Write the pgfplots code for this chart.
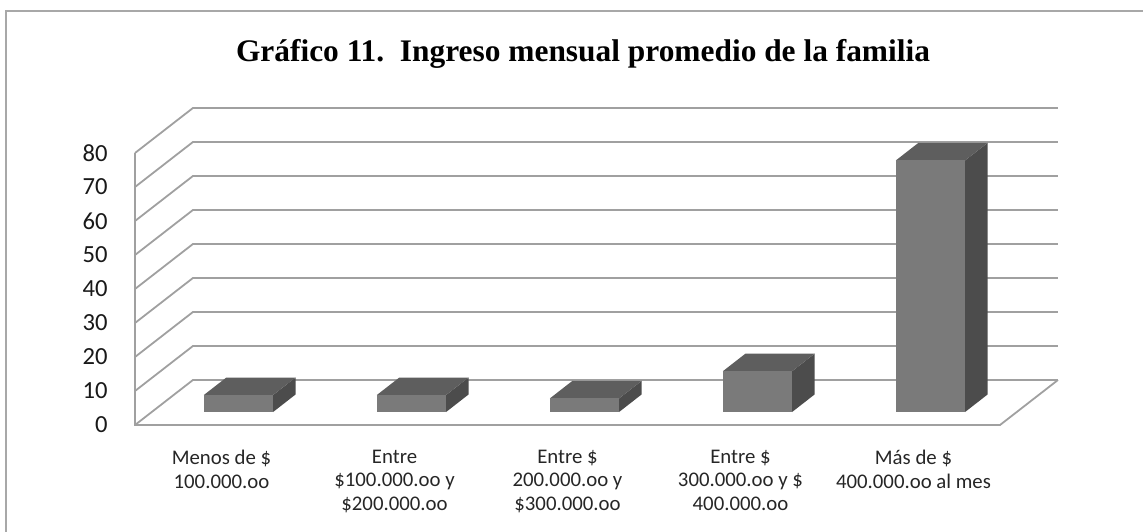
\documentclass[border=0pt]{standalone}
\usepackage{pgfplots}
\usepackage{pgfplotstable}
\pgfplotsset{compat=1.18}
\usepackage{fontspec}
\setmainfont{Carlito}
\newfontfamily\titlefont{Liberation Serif}
\definecolor{gridc}{HTML}{A0A0A0}
\definecolor{framec}{HTML}{A8A8A8}
\definecolor{frontc}{HTML}{7A7A7A}
\definecolor{topc}{HTML}{5E5E5E}
\definecolor{sidec}{HTML}{4C4C4C}
\pgfplotstableread{
x v
0 5
1 5
2 4
3 12
4 74
}\datatable
\begin{document}
\begin{tikzpicture}
\useasboundingbox (0pt,0pt) rectangle (571.5pt,265.5pt);
\draw[line width=1pt, color=framec] (3pt,-3pt) -- (3pt,260pt) -- (575pt,260pt);
\node[font=\titlefont\bfseries\fontsize{15.7}{18}\selectfont] at (291.5pt,238.5pt) {Gráfico 11.\ \ Ingreso mensual promedio de la familia};
\begin{axis}[
  scale only axis, width=432.5pt, height=136pt,
  at={(67.5pt,53pt)}, anchor=south west,
  xmin=-0.5, xmax=4.5, ymin=0, ymax=80,
  clip=false, axis line style={draw=none}, major tick length=0pt,
  ytick={0,10,...,80}, xtick={0,1,2,3,4},
  xticklabels={{Menos de \$\\100.000.oo},{Entre\\\$100.000.oo y\\\$200.000.oo},{Entre \$\\200.000.oo y\\\$300.000.oo},{Entre \$\\300.000.oo y \$\\400.000.oo},{Más de \$\\400.000.oo al mes}},
  /pgf/number format/assume math mode=true,
  yticklabel style={font=\fontsize{12.3}{14}\selectfont, anchor=east, inner sep=0pt, xshift=-13.5pt, text=black!90},
  xticklabel style={font=\fontsize{10.4}{11.6}\selectfont, align=center, anchor=north, inner sep=0pt, yshift=-12.5pt, text=black!85},
]
\pgfplotsinvokeforeach{0,10,20,30,40,50,60,70,80}{
  \draw[gridc, line width=0.9pt] (axis cs:-0.5,#1) -- ++(axis direction cs:0.335,13.24) -- ++(axis direction cs:5,0);
}
\draw[gridc, line width=0.9pt] (axis cs:-0.5,80) -- (axis cs:-0.5,0) -- (axis cs:4.5,0) -- ++(axis direction cs:0.335,13.24);
\pgfplotsinvokeforeach{0,1,2,3,4}{
  \pgfplotstablegetelem{#1}{v}\of\datatable
  \pgfmathsetmacro\xa{#1+0.098-0.2}
  \pgfmathsetmacro\xb{#1+0.098+0.2}
  \pgfmathsetmacro\xc{\xb+0.13}
  \pgfmathsetmacro\xd{\xa+0.13}
  \pgfmathsetmacro\yb{3.82}
  \pgfmathsetmacro\yt{3.82+\pgfplotsretval}
  \pgfmathsetmacro\ybb{\yb+5.15}
  \pgfmathsetmacro\ytt{\yt+5.15}
  \addplot[draw=none, fill=sidec] coordinates {(\xb,\yb) (\xc,\ybb) (\xc,\ytt) (\xb,\yt)} --cycle;
  \addplot[draw=none, fill=topc] coordinates {(\xa,\yt) (\xb,\yt) (\xc,\ytt) (\xd,\ytt)} --cycle;
  \addplot[draw=none, fill=frontc] coordinates {(\xa,\yb) (\xb,\yb) (\xb,\yt) (\xa,\yt)} --cycle;
}
\end{axis}
\end{tikzpicture}
\end{document}
